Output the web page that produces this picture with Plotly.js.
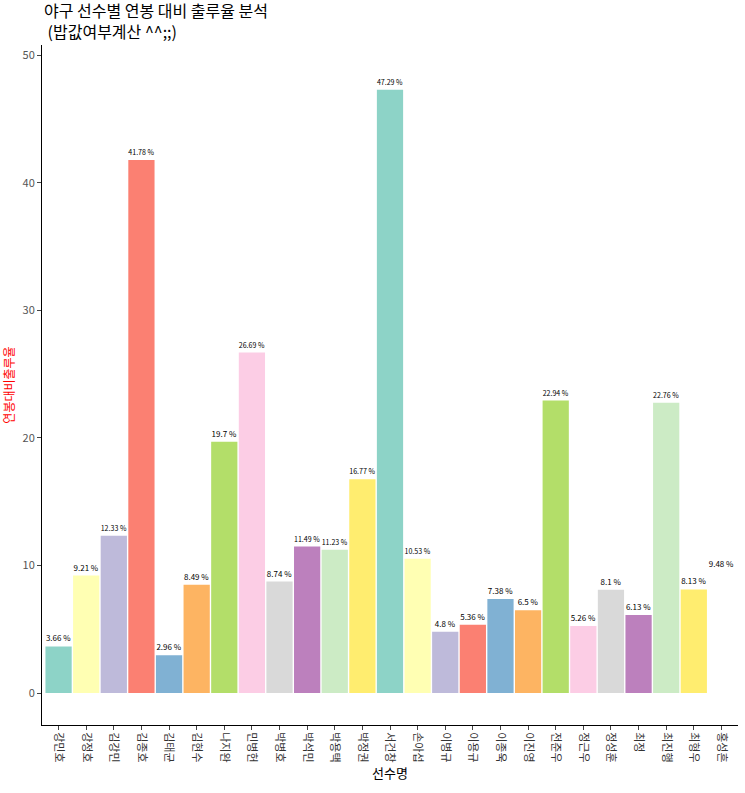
<!DOCTYPE html>
<html>
<head>
<meta charset="utf-8">
<script src="https://cdn.plot.ly/plotly-3.0.1.min.js"></script>
<style>body{margin:0;background:#fff}</style>
</head>
<body>
<div id="chart" style="width:745px;height:793px"></div>
<script>
// 선수별 연봉 대비 출루율
const players = ['강민호', '강정호', '김강민', '김종호', '김태균', '김현수', '나지완', '민병헌', '박병호', '박석민',
    '박용택', '박정권', '서건창', '손아섭', '이병규', '이용규', '이종욱', '이진영', '전준우', '정근우',
    '정성훈', '최정', '최진행', '최형우', '홍성흔'];
const ratio = [3.66, 9.21, 12.33, 41.78, 2.96, 8.49, 19.7, 26.69, 8.74, 11.49,
    11.23, 16.77, 47.29, 10.53, 4.8, 5.36, 7.38, 6.5, 22.94, 5.26,
    8.1, 6.13, 22.76, 8.13, 9.48];
const set3 = ['#8DD3C7', '#FFFFB3', '#BEBADA', '#FB8072', '#80B1D3', '#FDB462',
    '#B3DE69', '#FCCDE5', '#D9D9D9', '#BC80BD', '#CCEBC5', '#FFED6F'];
const colors = players.map((p, i) => i === players.length - 1 ? '#FFFFFF' : set3[i % 12]);

const trace = {
    x: players,
    y: ratio,
    type: 'bar',
    marker: { color: colors, line: { color: '#fff', width: 0 } },
    text: ratio.map(v => v + ' %'),
    textposition: 'outside',
    cliponaxis: false,
    textfont: { size: 8, color: '#000' },
    hoverinfo: 'x+y',
};

const layout = {
    width: 745, height: 793,
    margin: { l: 42, r: 7, t: 45, b: 68 },
    bargap: 0.05,
    paper_bgcolor: '#fff', plot_bgcolor: '#fff',
    font: { family: 'Noto Sans CJK KR, sans-serif' },
    annotations: [{
        text: '야구 선수별 연봉 대비 출루율 분석<br> (밥값여부계산 ^^;;)',
        xref: 'paper', yref: 'paper', x: 0, y: 1,
        xanchor: 'left', yanchor: 'bottom', align: 'left', showarrow: false,
        font: { size: 16, color: '#000' },
    }],
    showlegend: false,
    xaxis: {
        title: { text: '선수명', font: { size: 13, color: '#000' }, standoff: 4 },
        tickangle: 90,
        tickfont: { size: 11, color: '#333' },
        ticks: 'outside', ticklen: 4,
        showline: true, linecolor: '#000', showgrid: false,
        range: [-0.6, 24.6],
    },
    yaxis: {
        title: { text: '연봉대비출루율', font: { size: 12, color: 'red' }, standoff: 6 },
        range: [-2.5, 50.8],
        tickvals: [0, 10, 20, 30, 40, 50],
        tickfont: { size: 11, color: '#555' },
        ticks: 'outside', ticklen: 4,
        showline: true, linecolor: '#000', showgrid: false, zeroline: false,
    },
};

Plotly.newPlot('chart', [trace], layout, { displayModeBar: false });
</script>
</body>
</html>
